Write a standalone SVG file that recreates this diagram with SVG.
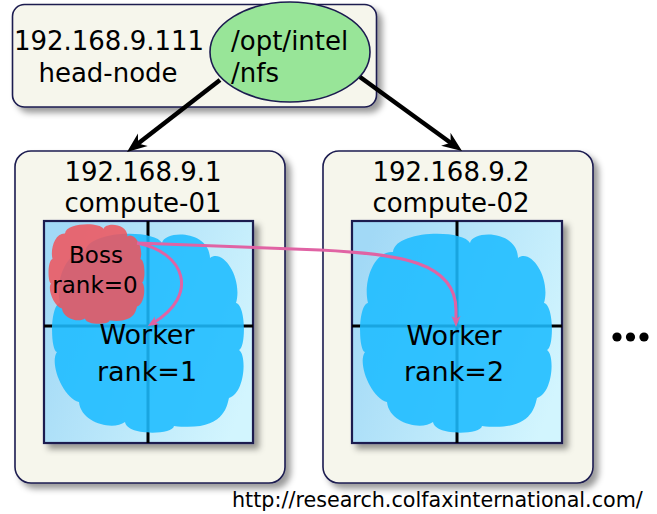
<svg xmlns="http://www.w3.org/2000/svg" width="657" height="514" viewBox="0 0 657 514">
<style>
text{font-family:"DejaVu Sans","Liberation Sans",sans-serif;fill:#000}
.box{fill:#f6f6ec;stroke:#1c1c50;stroke-width:1.6}
.panel{fill:url(#pg);stroke:#1c1c50;stroke-width:2.2}
.grid{stroke:#000;stroke-width:3}
.blue{fill:#1cbcff;opacity:0.88}
.red{fill:#f0545c;opacity:0.86}
.hdr{font-size:26px;text-anchor:middle}
.wk{font-size:27px;text-anchor:middle}
.bs{font-size:23px;text-anchor:middle}
.blk{fill:none;stroke:#000;stroke-width:4.5}
.pink{fill:none;stroke:#e063a4;stroke-width:3}
</style>
<defs>
<filter id="sh" x="-10%" y="-10%" width="130%" height="130%">
<feGaussianBlur in="SourceAlpha" stdDeviation="3"/>
<feOffset dx="5" dy="5" result="b"/>
<feFlood flood-color="#000" flood-opacity="0.4"/>
<feComposite in2="b" operator="in"/>
<feMerge><feMergeNode/><feMergeNode in="SourceGraphic"/></feMerge>
</filter>
<linearGradient id="pg" x1="0" y1="0.3" x2="1" y2="0.7">
<stop offset="0" stop-color="#a2d9f6"/>
<stop offset="1" stop-color="#d2f5fe"/>
</linearGradient>
<path id="blob" d="M32,19 C34,-3 102,-4 109,10 C112,-3 156,-3 157,25 C170,15 190,45 183,70 C193,72 193,115 186,117 C194,122 192,160 176,165 C174,172 172,199 121,193 C120,202 74,203 72,189 C60,198 28,190 26,169 C10,165 -4,130 4,119 C-3,117 -3,72 7,70 C2,50 12,18 32,19 Z"/>
<marker id="ah" viewBox="-10 -10 24 20" refX="0" refY="0" markerWidth="24" markerHeight="20" orient="auto" markerUnits="userSpaceOnUse">
<path d="M12,0 L-8,-8 L-2,0 L-8,8 Z" fill="#000"/>
</marker>
<marker id="ap" viewBox="-6 -6 14 12" refX="0" refY="0" markerWidth="14" markerHeight="12" orient="auto" markerUnits="userSpaceOnUse">
<path d="M6,0 L-5,-4.5 L-2,0 L-5,4.5 Z" fill="#e063a4"/>
</marker>
</defs>

<g id="head-node">
<rect class="box" x="12.5" y="4.5" width="364" height="102.5" rx="12" filter="url(#sh)"/>
<text class="hdr" x="109" y="50">192.168.9.111</text>
<text class="hdr" x="108" y="82">head-node</text>
</g>
<g id="nfs">
<ellipse cx="290" cy="52" rx="80" ry="50" fill="#98e598" stroke="#1c1c50" stroke-width="1.6"/>
<text x="231" y="50" style="font-size:26px">/opt/intel</text>
<text x="231" y="82" style="font-size:26px">/nfs</text>
</g>

<g id="compute-01">
<rect class="box" x="15" y="151" width="270" height="332" rx="16" filter="url(#sh)"/>
<text class="hdr" x="143" y="181">192.168.9.1</text>
<text class="hdr" x="143" y="212">compute-01</text>
<rect class="panel" x="44" y="221" width="209" height="222" filter="url(#sh)"/>
<line class="grid" x1="148" y1="221" x2="148" y2="443"/>
<line class="grid" x1="44" y1="326" x2="253" y2="326"/>
</g>
<g id="worker-1">
<use href="#blob" class="blue" transform="translate(53,233)"/>
<text class="wk" x="147" y="344">Worker</text>
<text class="wk" x="147" y="381">rank=1</text>
</g>
<g id="boss">
<use href="#blob" class="red" transform="translate(49,224) scale(0.5)"/>
<text class="bs" x="96" y="263">Boss</text>
<text class="bs" x="95" y="293">rank=0</text>
</g>

<g id="compute-02">
<rect class="box" x="323" y="151" width="270" height="332" rx="16" filter="url(#sh)"/>
<text class="hdr" x="451" y="181">192.168.9.2</text>
<text class="hdr" x="451" y="212">compute-02</text>
<rect class="panel" x="352" y="221" width="210" height="222" filter="url(#sh)"/>
<line class="grid" x1="457" y1="221" x2="457" y2="443"/>
<line class="grid" x1="352" y1="326" x2="562" y2="326"/>
</g>
<g id="worker-2">
<use href="#blob" class="blue" transform="translate(361,233)"/>
<text class="wk" x="454" y="345">Worker</text>
<text class="wk" x="454" y="381">rank=2</text>
</g>

<g id="more" fill="#000">
<circle cx="617" cy="337" r="4.6"/>
<circle cx="630.5" cy="337" r="4.6"/>
<circle cx="644" cy="337" r="4.6"/>
</g>

<g id="connectors">
<line class="blk" x1="220" y1="80" x2="136.5" y2="144.7" marker-end="url(#ah)"/>
<line class="blk" x1="360" y1="77" x2="452.3" y2="144" marker-end="url(#ah)"/>
<path class="pink" d="M137,243 C185,252 200,295 153,323" marker-end="url(#ap)"/>
<path class="pink" d="M137,243 L320,250 C400,254 456,262 456,310 L456,321" marker-end="url(#ap)"/>
</g>

<text x="232" y="507" style="font-size:20.7px">http://research.colfaxinternational.com/</text>
</svg>
